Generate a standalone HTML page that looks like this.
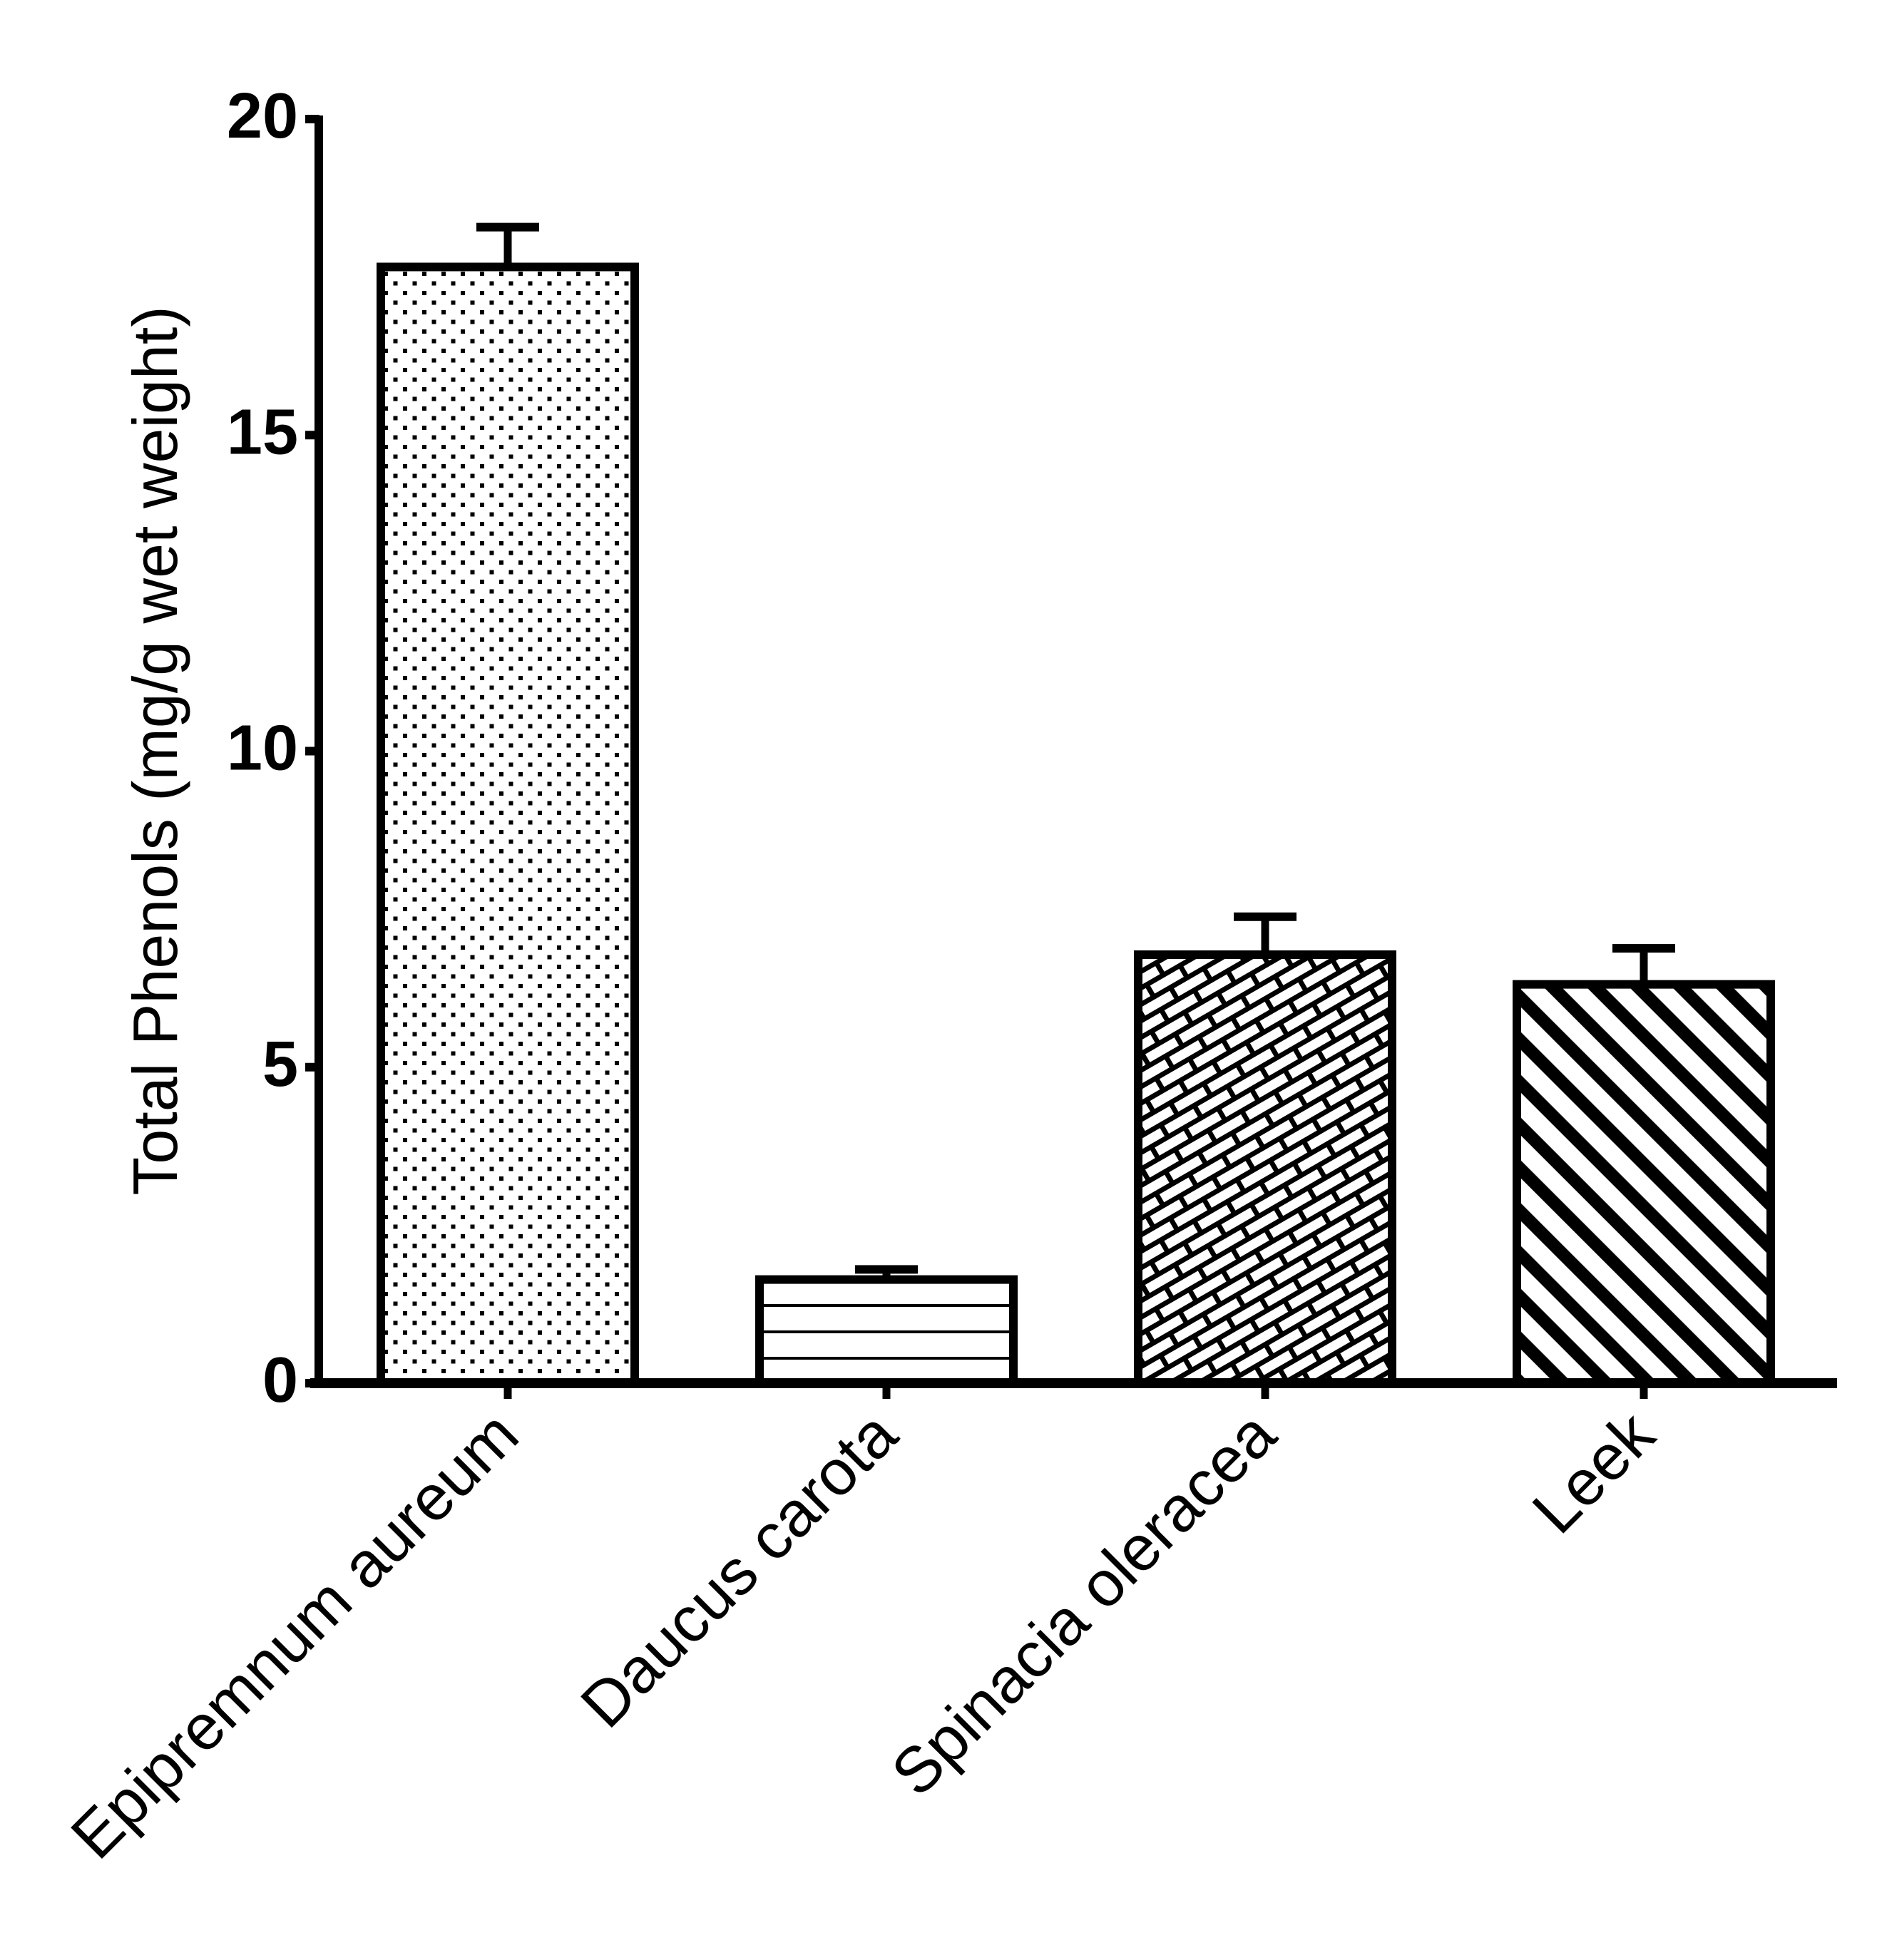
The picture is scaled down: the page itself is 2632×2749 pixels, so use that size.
<!DOCTYPE html>
<html><head><meta charset="utf-8"><style>html,body{margin:0;padding:0;background:#fff}svg{display:block}</style></head>
<body>
<svg id="chart" width="2632" height="2749" viewBox="0 0 2632 2749" xmlns="http://www.w3.org/2000/svg">
<defs>
<pattern id="pDots" patternUnits="userSpaceOnUse" width="27" height="27" x="535" y="0">
<rect x="3" y="3" width="6" height="6" fill="#000"/><rect x="16.5" y="16.5" width="6" height="6" fill="#000"/>
</pattern>
<pattern id="pHLines" patternUnits="userSpaceOnUse" width="40" height="37" x="0" y="1940">
<rect x="0" y="-3" width="40" height="7" fill="#000"/>
</pattern>
<pattern id="pBrick" patternUnits="userSpaceOnUse" width="54" height="40" patternTransform="rotate(-30)">
<rect width="54" height="40" fill="#000"/>
<rect x="3.5" y="3.5" width="47" height="13" fill="#fff"/>
<rect x="30.5" y="23.5" width="47" height="13" fill="#fff"/>
<rect x="-23.5" y="23.5" width="47" height="13" fill="#fff"/>
</pattern>
<pattern id="pStripes" patternUnits="userSpaceOnUse" width="42.43" height="42.43" patternTransform="rotate(-45)">
<rect x="0" y="0" width="17.7" height="42.43" fill="#000"/>
</pattern>
</defs>
<g id="marks"></g>
<g id="axes"></g>
</svg>
<script>
const categories = ["Epipremnum aureum", "Daucus carota", "Spinacia oleracea", "Leek"];
const values = [17.66, 1.64, 6.78, 6.31];
const errors = [0.63, 0.16, 0.60, 0.57];
const yTicks = [0, 5, 10, 15, 20];
const patterns = ["pDots", "pHLines", "pBrick", "pStripes"];

const NS = "http://www.w3.org/2000/svg";
const y0 = 1940, yTop = 167, yMax = 20;
const xFirst = 712, xStep = 531, barW = 356;
function yScale(v){ return y0 - (y0 - yTop) * v / yMax; }
function xScale(i){ return xFirst + xStep * i; }
function mk(tag, attrs, parent){ const e = document.createElementNS(NS, tag); for (const k in attrs) e.setAttribute(k, attrs[k]); parent.appendChild(e); return e; }

const marks = document.getElementById("marks");
const axes = document.getElementById("axes");

categories.forEach((c, i) => {
  const cx = xScale(i), top = yScale(values[i]), errTop = yScale(values[i] + errors[i]);
  const slug = c.toLowerCase().replace(/\s+/g, "-");
  const stem = mk("rect", {x: cx - 5.5, y: errTop, width: 11, height: top - errTop, fill: "#000"}, marks);
  
  
  const cap = mk("rect", {x: cx - 44, y: errTop - 6, width: 88, height: 12, fill: "#000"}, marks);
  
  
  const bar = mk("rect", {x: cx - barW / 2, y: top, width: barW, height: y0 - top, fill: "url(#" + patterns[i] + ")", stroke: "#000", "stroke-width": 12}, marks);
  
  
  const tk = mk("rect", {x: cx - 5.5, y: y0, width: 11, height: 22, fill: "#000"}, axes);
  
  
  const lab = mk("text", {x: cx + 20, y: 2018, "text-anchor": "end", transform: "rotate(-45 " + (cx + 20) + " 2018)", "font-family": "Liberation Sans, Arial, sans-serif", "font-size": 90, fill: "#000"}, axes);
  lab.textContent = c;
  
  
});

const yAxis = mk("rect", {x: 441, y: 162, width: 12, height: 1785, fill: "#000"}, axes);


const xAxis = mk("rect", {x: 435, y: 1933, width: 2141, height: 14, fill: "#000"}, axes);



yTicks.forEach(t => {
  const yy = yScale(t);
  const tk = mk("rect", {x: 428, y: yy - 6, width: 20, height: 12, fill: "#000"}, axes);
  
  
  const lab = mk("text", {x: 418, y: yy + 26, "text-anchor": "end", "font-family": "Liberation Sans, Arial, sans-serif", "font-size": 90, "font-weight": "bold", fill: "#000"}, axes);
  lab.textContent = t;
  
  
});

const title = mk("text", {x: 248, y: 1053, "text-anchor": "middle", transform: "rotate(-90 248 1053)", "font-family": "Liberation Sans, Arial, sans-serif", "font-size": 88, fill: "#000"}, axes);
title.textContent = "Total Phenols (mg/g wet weight)";


</script>
</body></html>
